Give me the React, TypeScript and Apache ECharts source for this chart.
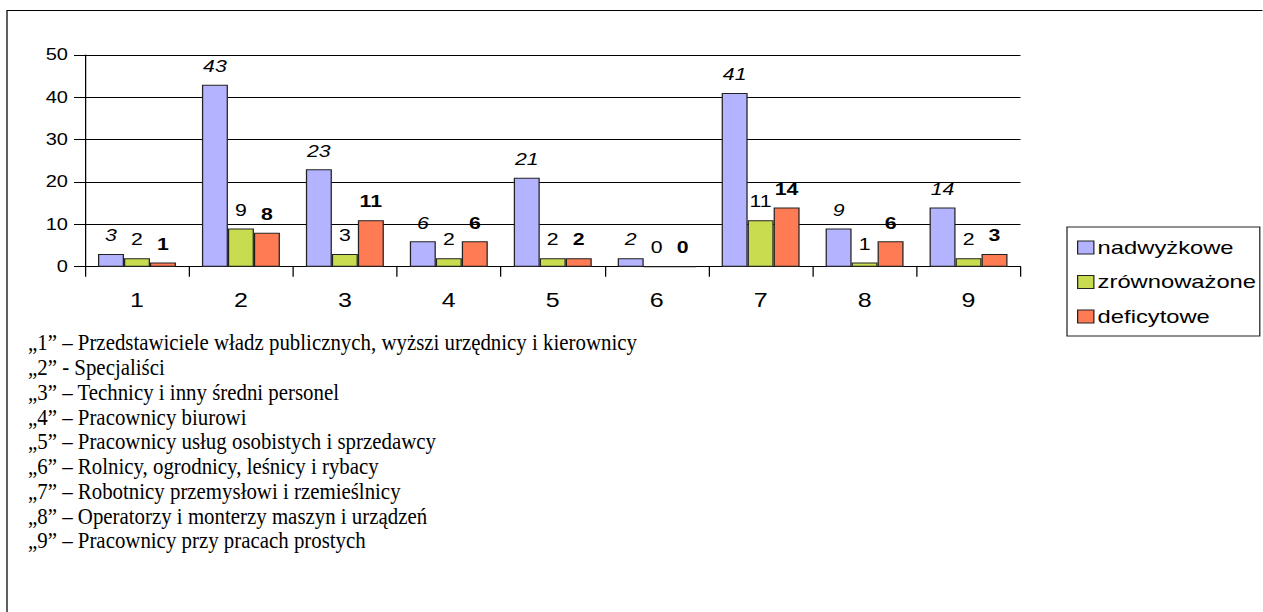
import React, { useEffect, useRef } from 'react';
import * as echarts from 'echarts';

const categories = ['1', '2', '3', '4', '5', '6', '7', '8', '9'];
const seriesNames = ['nadwyżkowe', 'zrównoważone', 'deficytowe'];
const nadwyzkowe = [3, 43, 23, 6, 21, 2, 41, 9, 14];
const zrownowazone = [2, 9, 3, 2, 2, 0, 11, 1, 2];
const deficytowe = [1, 8, 11, 6, 2, 0, 14, 6, 3];
const yMin = 0;
const yMax = 50;
const yStep = 10;
const footnotes = [
  '„1” – Przedstawiciele władz publicznych, wyższi urzędnicy i kierownicy',
  '„2” - Specjaliści',
  '„3” – Technicy i inny średni personel',
  '„4” – Pracownicy biurowi',
  '„5” – Pracownicy usług osobistych i sprzedawcy',
  '„6” – Rolnicy, ogrodnicy, leśnicy i rybacy',
  '„7” – Robotnicy przemysłowi i rzemieślnicy',
  '„8” – Operatorzy i monterzy maszyn i urządzeń',
  '„9” – Pracownicy przy pracach prostych',
];

// the reference picture is stretched horizontally
const S = 1.25;
const u = (x: number) => x / S;

const SANS = '"Liberation Sans", Arial, sans-serif';
const SERIF = '"Liberation Serif", "Times New Roman", serif';

export default function App() {
  const ref = useRef<HTMLDivElement>(null);
  useEffect(() => {
    if (!ref.current) return;
    const chart = echarts.init(ref.current, undefined, { renderer: 'svg' });
    const colors = ['#b3b3ff', '#c9dc50', '#ff7b53'];
    const values = [nadwyzkowe, zrownowazone, deficytowe];
    const labelStyles: any[] = [
      { fontStyle: 'italic', fontWeight: 'normal' },
      { fontStyle: 'normal', fontWeight: 'normal' },
      { fontStyle: 'normal', fontWeight: 'bold' },
    ];
    const gridLeft = u(85);
    const gridRight = u(1020.5);
    const option: any = {
      animation: false,
      backgroundColor: '#fff',
      textStyle: { fontFamily: SANS },
      grid: {
        left: gridLeft,
        width: gridRight - gridLeft,
        top: 55,
        height: 211.7,
        containLabel: false,
      },
      legend: {
        orient: 'vertical',
        left: u(1067),
        top: 227,
        padding: [11, 3, 10, 8],
        itemGap: 15.5,
        itemWidth: 13,
        itemHeight: 13,
        borderColor: '#222',
        borderWidth: 1,
        borderRadius: 0,
        icon: 'rect',
        itemStyle: { borderColor: '#222', borderWidth: 1 },
        textStyle: { fontSize: 19, color: '#000', fontFamily: SANS, padding: [0, 0, 0, -2] },
        data: seriesNames,
      },
      xAxis: {
        type: 'category',
        data: categories,
        boundaryGap: true,
        axisLine: { show: true, lineStyle: { color: '#000', width: 1 } },
        axisTick: { show: true, length: 10, alignWithLabel: false, lineStyle: { color: '#000' } },
        axisLabel: { fontSize: 20, color: '#000', margin: 24, fontFamily: SANS },
        splitLine: { show: false },
      },
      yAxis: {
        type: 'value',
        min: yMin,
        max: yMax,
        interval: yStep,
        axisLine: { show: true, lineStyle: { color: '#000', width: 1 } },
        axisTick: { show: true, length: u(11), lineStyle: { color: '#000' } },
        axisLabel: { fontSize: 16, color: '#000', margin: u(17), fontFamily: SANS },
        splitLine: { show: true, lineStyle: { color: '#000', width: 1 } },
      },
      series: seriesNames.map((name, i) => ({
        name,
        type: 'bar',
        data: values[i],
        barGap: '0%',
        barCategoryGap: '25%',
        itemStyle: { color: colors[i], borderColor: '#222', borderWidth: 1 },
        label: {
          show: true,
          position: 'top',
          distance: 10,
          fontSize: 17,
          color: '#000',
          fontFamily: SANS,
          ...labelStyles[i],
        },
      })),
      graphic: [
        {
          type: 'rect',
          shape: { x: u(7), y: 10.5, width: 3000, height: 3000 },
          style: { fill: 'none', stroke: '#000', lineWidth: 1 },
          silent: true,
          z: 0,
        },
        ...footnotes.map((t, i) => ({
          type: 'text',
          x: u(28),
          y: 342.5 + i * 24.75,
          scaleX: 0.907 / S,
          style: {
            text: t,
            fontSize: 23,
            fontFamily: SERIF,
            fill: '#000',
            verticalAlign: 'middle',
            align: 'left',
          },
          silent: true,
        })),
      ],
    };
    chart.setOption(option);
    return () => chart.dispose();
  }, []);
  return (
    <div
      style={{
        position: 'absolute',
        left: 0,
        top: 0,
        width: 1263,
        height: 612,
        overflow: 'hidden',
        background: '#fff',
      }}
    >
      <div
        ref={ref}
        style={{
          width: 1010,
          height: 612,
          transform: `scaleX(${S})`,
          transformOrigin: '0 0',
        }}
      />
    </div>
  );
}
